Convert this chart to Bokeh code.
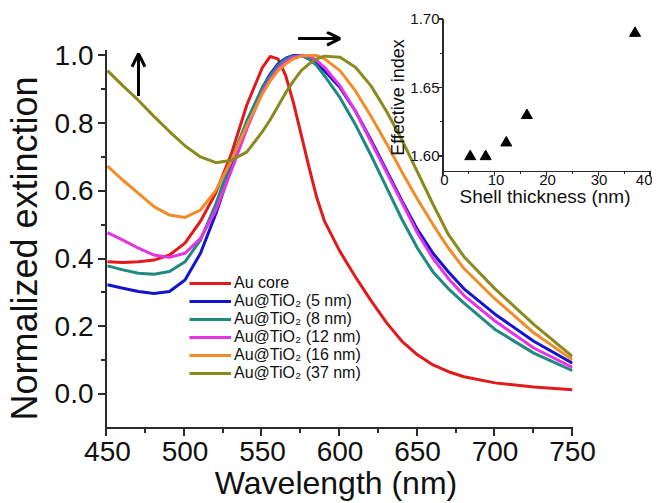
import numpy as np
from bokeh.plotting import figure
from bokeh.models import (Range1d, FixedTicker, PrintfTickFormatter, Legend, LegendItem,
                          Arrow, OpenHead, Div)
from bokeh.embed import file_html
from bokeh.resources import INLINE

# ---------------- data ----------------
wavelength = [450, 460, 470, 480, 490, 500, 510, 520, 530, 540, 550, 555, 560, 565, 570,
              575, 580, 585, 590, 600, 610, 620, 630, 640, 650, 660, 670, 680, 700, 725, 750]

au_core = [0.39, 0.388, 0.39, 0.395, 0.41, 0.445, 0.51, 0.595, 0.71, 0.855, 0.965, 0.997, 0.99,
           0.94, 0.86, 0.765, 0.67, 0.58, 0.51, 0.42, 0.345, 0.275, 0.21, 0.155, 0.115, 0.085,
           0.065, 0.05, 0.032, 0.02, 0.012]
tio2_5nm = [0.322, 0.312, 0.302, 0.296, 0.302, 0.336, 0.415, 0.533, 0.67, 0.80, 0.905, 0.945,
            0.975, 0.992, 1.0, 1.0, 0.99, 0.975, 0.955, 0.905, 0.835, 0.75, 0.66, 0.57, 0.485,
            0.415, 0.36, 0.31, 0.235, 0.155, 0.09]
tio2_8nm = [0.378, 0.366, 0.356, 0.353, 0.361, 0.39, 0.454, 0.562, 0.69, 0.808, 0.905, 0.94,
            0.97, 0.99, 0.998, 1.0, 0.99, 0.97, 0.94, 0.875, 0.795, 0.705, 0.61, 0.515, 0.43,
            0.36, 0.31, 0.268, 0.19, 0.12, 0.068]
tio2_12nm = [0.476, 0.454, 0.43, 0.41, 0.403, 0.415, 0.459, 0.543, 0.661, 0.784, 0.892, 0.93,
             0.961, 0.982, 0.995, 1.0, 0.998, 0.985, 0.965, 0.91, 0.835, 0.745, 0.655, 0.565,
             0.475, 0.40, 0.34, 0.29, 0.215, 0.135, 0.078]
tio2_16nm = [0.673, 0.631, 0.592, 0.553, 0.528, 0.521, 0.543, 0.602, 0.69, 0.794, 0.887, 0.925,
             0.955, 0.975, 0.99, 0.998, 1.0, 1.0, 0.99, 0.955, 0.895, 0.82, 0.74, 0.655, 0.575,
             0.50, 0.43, 0.37, 0.28, 0.18, 0.10]
tio2_37nm = [0.955, 0.91, 0.867, 0.82, 0.775, 0.733, 0.70, 0.683, 0.69, 0.715, 0.775, 0.81,
             0.85, 0.89, 0.925, 0.955, 0.975, 0.99, 0.998, 0.995, 0.965, 0.91, 0.835, 0.75,
             0.655, 0.56, 0.47, 0.405, 0.31, 0.205, 0.11]

series_labels = ["Au core", "Au@TiO\u2082 (5 nm)", "Au@TiO\u2082 (8 nm)", "Au@TiO\u2082 (12 nm)",
                 "Au@TiO\u2082 (16 nm)", "Au@TiO\u2082 (37 nm)"]
series_values = [au_core, tio2_5nm, tio2_8nm, tio2_12nm, tio2_16nm, tio2_37nm]
series_colors = ["#e3191c", "#1414cc", "#1f8a80", "#e633e6", "#f28c28", "#8a8a1e"]

x_ticks = [450, 500, 550, 600, 650, 700, 750]
x_minor_ticks = [475, 525, 575, 625, 675, 725]
y_ticks = [0.0, 0.2, 0.4, 0.6, 0.8, 1.0]
y_minor_ticks = [0.1, 0.3, 0.5, 0.7, 0.9]
x_axis_span = [450, 750]
y_axis_span = [-0.1, 1.015]

shell_thickness = [5, 8, 12, 16, 37]
effective_index = [1.60, 1.60, 1.61, 1.63, 1.69]
inset_x_ticks = [0, 10, 20, 30, 40]
inset_x_minor = [5, 15, 25, 35]
inset_y_ticks = [1.60, 1.65, 1.70]
inset_y_minor = [1.625, 1.675]
inset_x_span = [0, 40]
inset_y_span = [1.589, 1.70]

FONT = "Liberation Sans"
AXC = "#2b2b2b"
TXT = "#111111"


def style_axis(ax, tick_font, standoff, title_font, title_standoff):
    ax.axis_line_color = None
    ax.major_tick_line_color = None
    ax.minor_tick_line_color = None
    ax.major_tick_in = 0
    ax.major_tick_out = 0
    ax.minor_tick_in = 0
    ax.minor_tick_out = 0
    ax.major_label_text_font = FONT
    ax.major_label_text_font_size = tick_font
    ax.major_label_text_color = TXT
    ax.major_label_standoff = standoff
    ax.axis_label_text_font = FONT
    ax.axis_label_text_font_size = title_font
    ax.axis_label_text_font_style = "normal"
    ax.axis_label_text_color = TXT
    ax.axis_label_standoff = title_standoff


# ---------------- main figure ----------------
W, H, BL, BR, BT, BB = 660, 503, 98, 88, 31, 67
XR = (444.85, 750)
YR = (-0.1236, 1.0708)
p = figure(width=W, height=H, output_backend="svg", toolbar_location=None,
           x_range=Range1d(*XR), y_range=Range1d(*YR))
p.min_border_left = BL
p.min_border_right = BR
p.min_border_top = BT
p.min_border_bottom = BB
p.outline_line_color = None
p.grid.visible = False
ppx = (W - BL - BR) / (XR[1] - XR[0])
ppy = (H - BT - BB) / (YR[1] - YR[0])

renderers = []
for vals, col in zip(series_values, series_colors):
    r = p.line(wavelength, vals, line_color=col, line_width=3)
    renderers.append(r)

p.xaxis.ticker = FixedTicker(ticks=x_ticks)
p.yaxis.ticker = FixedTicker(ticks=y_ticks)
p.yaxis.formatter = PrintfTickFormatter(format="%.1f")
p.xaxis.axis_label = "Wavelength (nm)"
p.yaxis.axis_label = "Normalized extinction\u00a0\u00a0\u00a0"
style_axis(p.xaxis[0], "28px", 6, "32px", 1)
style_axis(p.yaxis[0], "28px", 6, "36px", 7)

legend = Legend(items=[LegendItem(label=lab, renderers=[r]) for lab, r in zip(series_labels, renderers)],
                location=(90, 53), padding=0, margin=0, spacing=0,
                glyph_width=42, glyph_height=18, label_height=18, label_standoff=3,
                label_text_font=FONT, label_text_font_size="16px", label_text_color=TXT,
                border_line_color=None, background_fill_alpha=0)
p.add_layout(legend)

p.add_layout(Arrow(end=OpenHead(size=13, line_width=3, line_color="black"),
                   x_start=470, y_start=0.88, x_end=470, y_end=1.005,
                   line_width=3, line_color="black"))
p.add_layout(Arrow(end=OpenHead(size=13, line_width=3, line_color="black"),
                   x_start=573, y_start=1.05, x_end=600, y_end=1.05,
                   line_width=3, line_color="black"))

# ---------------- inset ----------------
IL, IT = 385, 8
IW, IH, IBL, IBR, IBT, IBB = 267, 207, 53, 2, 10, 39
IXR = (-0.966, 40)
IYR = (1.5854, 1.7007)
inset = figure(width=IW, height=IH, output_backend="svg", toolbar_location=None,
               x_range=Range1d(*IXR), y_range=Range1d(*IYR))
inset.min_border_left = IBL
inset.min_border_right = IBR
inset.min_border_top = IBT
inset.min_border_bottom = IBB
inset.outline_line_color = None
inset.grid.visible = False
inset.background_fill_alpha = 0
inset.border_fill_alpha = 0
ippx = (IW - IBL - IBR) / (IXR[1] - IXR[0])
ippy = (IH - IBT - IBB) / (IYR[1] - IYR[0])
inset.scatter(shell_thickness, effective_index, marker="triangle", size=11,
              fill_color="black", line_color="black")
inset.xaxis.ticker = FixedTicker(ticks=inset_x_ticks)
inset.yaxis.ticker = FixedTicker(ticks=inset_y_ticks)
inset.yaxis.formatter = PrintfTickFormatter(format="%.2f")
inset.xaxis.axis_label = "Shell thickness (nm)"
inset.yaxis.axis_label = "Effective index"
style_axis(inset.xaxis[0], "15px", -2, "19px", -2)
style_axis(inset.yaxis[0], "15px", 0, "18px", -1)
inset.styles = {"position": "absolute", "left": f"{IL}px", "top": f"{IT}px"}


# ---------------- axis lines and outward ticks (page overlay, mapped from the ranges) ----------------
def bar(l, t, w, h):
    return (f'<div style="position:absolute;left:{l:.1f}px;top:{t:.1f}px;'
            f'width:{w:.1f}px;height:{h:.1f}px;background:{AXC};"></div>')


def axes_html(mx, my, xs, ys, xt, xm, yt, ym, major, minor, lw):
    h = lw / 2
    x0, x1 = mx(xs[0]), mx(xs[1])
    yb, yt_ = my(ys[0]), my(ys[1])
    parts = [bar(x0 - h, yb - h, x1 - x0 + lw, lw),
             bar(x0 - h, yt_, lw, yb - yt_ + h)]
    for t in xt:
        parts.append(bar(mx(t) - h, yb, lw, major + h))
    for t in xm:
        parts.append(bar(mx(t) - h, yb, lw, minor + h))
    for t in yt:
        parts.append(bar(x0 - h - major, my(t) - h, major + h, lw))
    for t in ym:
        parts.append(bar(x0 - h - minor, my(t) - h, minor + h, lw))
    return "".join(parts)


main_x = lambda v: BL + (v - XR[0]) * ppx
main_y = lambda v: BT + (YR[1] - v) * ppy
ins_x = lambda v: IL + IBL + (v - IXR[0]) * ippx
ins_y = lambda v: IT + IBT + (IYR[1] - v) * ippy

html = (axes_html(main_x, main_y, x_axis_span, y_axis_span, x_ticks, x_minor_ticks,
                  y_ticks, y_minor_ticks, 7, 4, 2)
        + axes_html(ins_x, ins_y, inset_x_span, inset_y_span, inset_x_ticks, inset_x_minor,
                    inset_y_ticks, inset_y_minor, 4, 2, 1.2))
axes_div = Div(text=html, width=W, height=H, margin=0,
               styles={"position": "absolute", "left": "0px", "top": "0px",
                       "pointer-events": "none"})

open("out.html", "w").write(file_html([p, inset, axes_div], INLINE))
